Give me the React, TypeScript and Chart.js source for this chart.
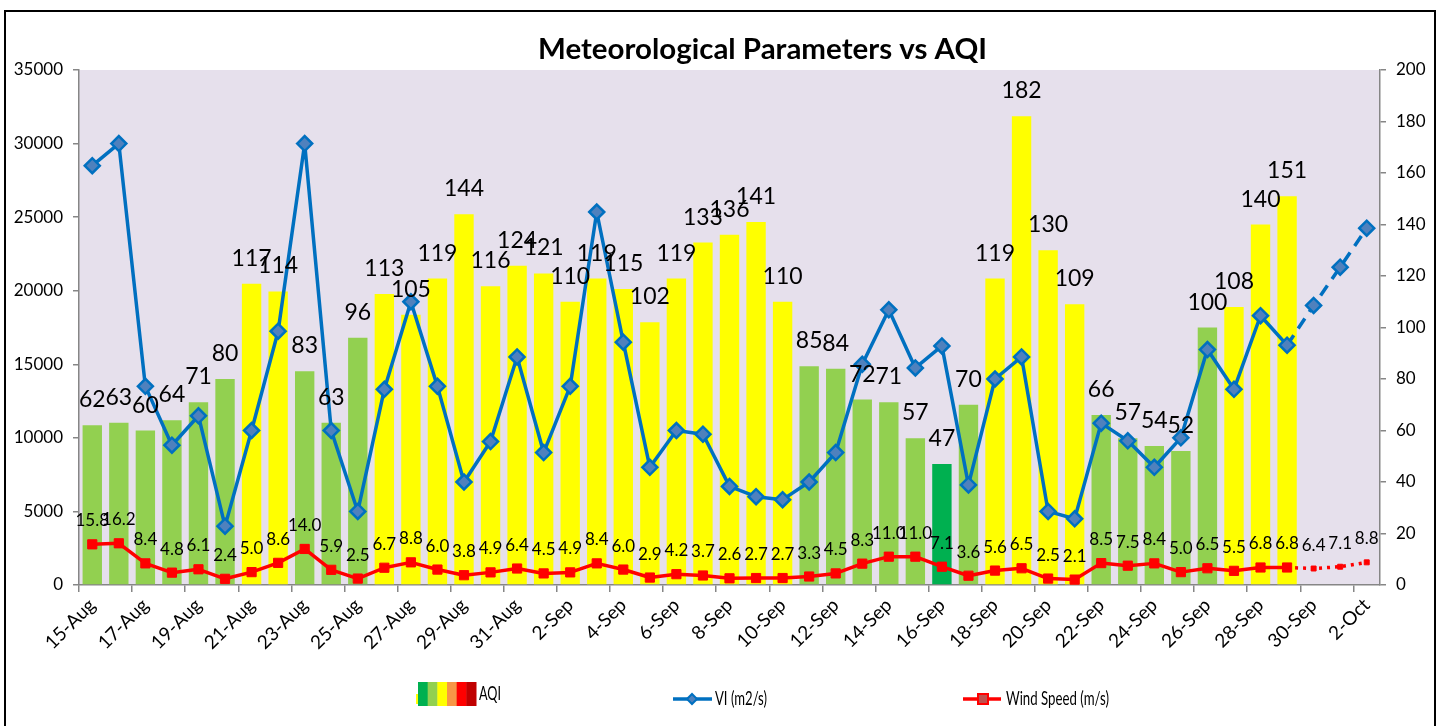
import React, { useEffect, useRef } from 'react';
import { Chart, registerables } from 'chart.js';

Chart.register(...registerables);

const FONT = 'Lato, "Open Sans", "Liberation Sans", sans-serif';

const categories = [
  '15-Aug', '16-Aug', '17-Aug', '18-Aug', '19-Aug', '20-Aug', '21-Aug', '22-Aug', '23-Aug', '24-Aug',
  '25-Aug', '26-Aug', '27-Aug', '28-Aug', '29-Aug', '30-Aug', '31-Aug',
  '1-Sep', '2-Sep', '3-Sep', '4-Sep', '5-Sep', '6-Sep', '7-Sep', '8-Sep', '9-Sep', '10-Sep',
  '11-Sep', '12-Sep', '13-Sep', '14-Sep', '15-Sep', '16-Sep', '17-Sep', '18-Sep', '19-Sep', '20-Sep',
  '21-Sep', '22-Sep', '23-Sep', '24-Sep', '25-Sep', '26-Sep', '27-Sep', '28-Sep', '29-Sep', '30-Sep',
  '1-Oct', '2-Oct',
];

const aqiValues: (number | null)[] = [
  62, 63, 60, 64, 71, 80, 117, 114, 83, 63, 96, 113, 105, 119, 144, 116, 124,
  121, 110, 119, 115, 102, 119, 133, 136, 141, 110, 85, 84, 72, 71, 57, 47, 70, 119, 182,
  130, 109, 66, 57, 54, 52, 100, 108, 140, 151, null, null, null,
];

const viValues = [
  28500, 30000, 13500, 9500, 11500, 4000, 10500, 17250, 30000, 10500, 5000, 13300, 19250, 13500, 7000, 9750, 15500,
  9000, 13500, 25350, 16500, 8000, 10500, 10250, 6700, 6000, 5800, 7000, 9000, 15000, 18700, 14750, 16250, 6800,
  14000, 15500, 5000, 4500, 11000, 9800, 8000, 10000, 16000, 13300, 18300, 16300, 19000, 21600, 24250,
];

const windValues = [
  15.8, 16.2, 8.4, 4.8, 6.1, 2.4, 5.0, 8.6, 14.0, 5.9, 2.5, 6.7, 8.8, 6.0, 3.8, 4.9, 6.4,
  4.5, 4.9, 8.4, 6.0, 2.9, 4.2, 3.7, 2.6, 2.7, 2.7, 3.3, 4.5, 8.3, 11.0, 11.0, 7.1, 3.6,
  5.6, 6.5, 2.5, 2.1, 8.5, 7.5, 8.4, 5.0, 6.5, 5.5, 6.8, 6.8, 6.4, 7.1, 8.8,
];

const LAST_OBSERVED = 45; // 29-Sep; later points are forecast

const aqiBandColors = ['#00B050', '#92D050', '#FFFF00', '#F79646', '#FF0000', '#C00000'];
const aqiBandLimits = [50, 100, 200, 300, 400, 500];

const aqiColor = (v: number | null) => {
  if (v == null) return 'rgba(0,0,0,0)';
  for (let i = 0; i < aqiBandLimits.length; i++) if (v <= aqiBandLimits[i]) return aqiBandColors[i];
  return aqiBandColors[aqiBandColors.length - 1];
};

function fitText(ctx: CanvasRenderingContext2D, text: string, x: number, y: number, width: number) {
  const w = ctx.measureText(text).width;
  const sx = width / w;
  ctx.save();
  ctx.translate(x, y);
  ctx.scale(sx, 1);
  ctx.textAlign = 'left';
  ctx.textBaseline = 'alphabetic';
  ctx.fillText(text, 0, 0);
  ctx.restore();
}

const decorPlugin = {
  id: 'decor',
  beforeDraw(chart: any) {
    const { ctx, chartArea: a } = chart;
    ctx.save();
    ctx.fillStyle = '#E6E0EC';
    ctx.fillRect(a.left, a.top, a.right - a.left, a.bottom - a.top);
    ctx.restore();
  },
  afterDatasetsDraw(chart: any) {
    const ctx = chart.ctx as CanvasRenderingContext2D;
    ctx.save();
    ctx.fillStyle = '#000';
    ctx.textAlign = 'center';
    ctx.textBaseline = 'alphabetic';
    // wind speed labels
    ctx.font = `17px ${FONT}`;
    const wMeta = chart.getDatasetMeta(2);
    wMeta.data.forEach((pt: any, i: number) => {
      const v = windValues[i];
      if (v == null) return;
      ctx.fillText(v.toFixed(1), pt.x, pt.y - 18);
    });
    // AQI labels
    ctx.font = `23px ${FONT}`;
    const bMeta = chart.getDatasetMeta(0);
    bMeta.data.forEach((bar: any, i: number) => {
      const v = aqiValues[i];
      if (v == null) return;
      ctx.fillText(String(v), bar.x, bar.y - 18);
    });
    ctx.restore();
  },
  afterDraw(chart: any) {
    const ctx = chart.ctx as CanvasRenderingContext2D;
    ctx.save();
    ctx.fillStyle = '#000';
    // title
    ctx.font = `bold 28px ${FONT}`;
    fitText(ctx, 'Meteorological Parameters vs AQI', 532, 47, 449);

    // legend: AQI swatch
    const sw = 58 / aqiBandColors.length;
    aqiBandColors.forEach((c, i) => {
      ctx.fillStyle = c;
      ctx.fillRect(412 + i * sw, 670, sw + 0.5, 24);
    });
    ctx.fillStyle = '#FFFF00';
    ctx.fillRect(410, 682, 2, 10);
    ctx.fillStyle = '#000';
    ctx.font = `19px ${FONT}`;
    fitText(ctx, 'AQI', 473, 688, 22);

    // legend: VI
    ctx.strokeStyle = '#0070C0';
    ctx.lineWidth = 3.5;
    ctx.beginPath();
    ctx.moveTo(667, 687);
    ctx.lineTo(706, 687);
    ctx.stroke();
    ctx.beginPath();
    ctx.moveTo(686 - 5, 687);
    ctx.lineTo(686, 687 - 5);
    ctx.lineTo(686 + 5, 687);
    ctx.lineTo(686, 687 + 5);
    ctx.closePath();
    ctx.fillStyle = '#4F81BD';
    ctx.fill();
    ctx.lineWidth = 2;
    ctx.stroke();
    ctx.fillStyle = '#000';
    fitText(ctx, 'VI (m2/s)', 709, 693, 52);

    // legend: wind speed
    ctx.strokeStyle = '#FF0000';
    ctx.lineWidth = 3.5;
    ctx.beginPath();
    ctx.moveTo(957, 687);
    ctx.lineTo(995, 687);
    ctx.stroke();
    ctx.fillStyle = '#C0504D';
    ctx.fillRect(972, 682, 10, 10);
    ctx.lineWidth = 2;
    ctx.strokeRect(972, 682, 10, 10);
    ctx.fillStyle = '#000';
    fitText(ctx, 'Wind Speed (m/s)', 1000, 693, 103);
    ctx.restore();
  },
};

export default function App() {
  const canvasRef = useRef<HTMLCanvasElement | null>(null);

  useEffect(() => {
    const canvas = canvasRef.current;
    if (!canvas) return;
    const axisColor = '#868686';
    const chart = new Chart(canvas, {
      type: 'bar',
      data: {
        labels: categories,
        datasets: [
          {
            type: 'bar',
            label: 'AQI',
            data: aqiValues,
            yAxisID: 'yR',
            backgroundColor: aqiValues.map(aqiColor),
            borderWidth: 0,
            barPercentage: 0.73,
            categoryPercentage: 1,
            order: 2,
          } as any,
          {
            type: 'line',
            label: 'VI (m2/s)',
            data: viValues,
            yAxisID: 'yL',
            borderColor: '#0070C0',
            borderWidth: 3.5,
            borderJoinStyle: 'round',
            tension: 0,
            pointStyle: 'rectRot',
            pointRadius: 7.5,
            pointBackgroundColor: '#4F81BD',
            pointBorderColor: '#0070C0',
            pointBorderWidth: 2.5,
            segment: {
              borderDash: (c: any) => (c.p0DataIndex >= LAST_OBSERVED ? [12, 8] : undefined),
            },
            order: 0,
          } as any,
          {
            type: 'line',
            label: 'Wind Speed (m/s)',
            data: windValues,
            yAxisID: 'yR',
            borderColor: '#FF0000',
            borderWidth: 3.5,
            borderJoinStyle: 'round',
            tension: 0,
            pointStyle: 'rect',
            pointRadius: (c: any) => (c.dataIndex > LAST_OBSERVED ? 3.5 : 6.5),
            pointBackgroundColor: '#FF0000',
            pointBorderColor: '#FF0000',
            pointBorderWidth: 1,
            segment: {
              borderDash: (c: any) => (c.p0DataIndex >= LAST_OBSERVED ? [3, 5] : undefined),
            },
            order: 1,
          } as any,
        ],
      },
      options: {
        responsive: false,
        animation: false,
        events: [],
        layout: { padding: { left: 0, right: 0, top: 58, bottom: 51 } },
        plugins: {
          legend: { display: false },
          title: { display: false },
          tooltip: { enabled: false },
        },
        scales: {
          x: {
            offset: true,
            grid: {
              display: true,
              offset: true,
              drawOnChartArea: false,
              drawTicks: true,
              tickLength: 7,
              lineWidth: 1.5,
              color: (c: any) => (c.index % 2 === 0 ? axisColor : 'rgba(0,0,0,0)'),
            },
            border: { display: true, color: axisColor, width: 1.5 },
            ticks: {
              autoSkip: false,
              maxRotation: 45,
              minRotation: 45,
              padding: 2,
              color: '#000',
              font: { family: FONT, size: 19 },
              callback: (_v: any, i: number) => (i % 2 === 0 ? categories[i] : ''),
            },
            afterFit: (s: any) => {
              s.height = 90;
            },
          },
          yL: {
            type: 'linear',
            position: 'left',
            min: 0,
            max: 35000,
            ticks: {
              stepSize: 5000,
              color: '#000',
              padding: 10,
              font: { family: FONT, size: 17 },
              callback: (v: any) => String(v),
            },
            grid: { drawOnChartArea: false, tickLength: 6, color: axisColor, lineWidth: 1.5 },
            border: { display: true, color: axisColor, width: 1.5 },
            afterFit: (s: any) => {
              s.width = 73;
            },
          },
          yR: {
            type: 'linear',
            position: 'right',
            min: 0,
            max: 200,
            ticks: {
              stepSize: 20,
              color: '#000',
              padding: 10,
              font: { family: FONT, size: 17 },
              callback: (v: any) => String(v),
            },
            grid: { drawOnChartArea: false, tickLength: 6, color: axisColor, lineWidth: 1.5 },
            border: { display: true, color: axisColor, width: 1.5 },
            afterFit: (s: any) => {
              s.width = 54;
            },
          },
        },
      } as any,
      plugins: [decorPlugin],
    });
    return () => chart.destroy();
  }, []);

  return (
    <div
      style={{
        position: 'fixed',
        left: 4,
        top: 10,
        width: 1432,
        height: 730,
        border: '2px solid #000',
        boxSizing: 'border-box',
        background: '#fff',
        overflow: 'hidden',
      }}
    >
      <canvas ref={canvasRef} width={1428} height={714} style={{ display: 'block' }} />
    </div>
  );
}
